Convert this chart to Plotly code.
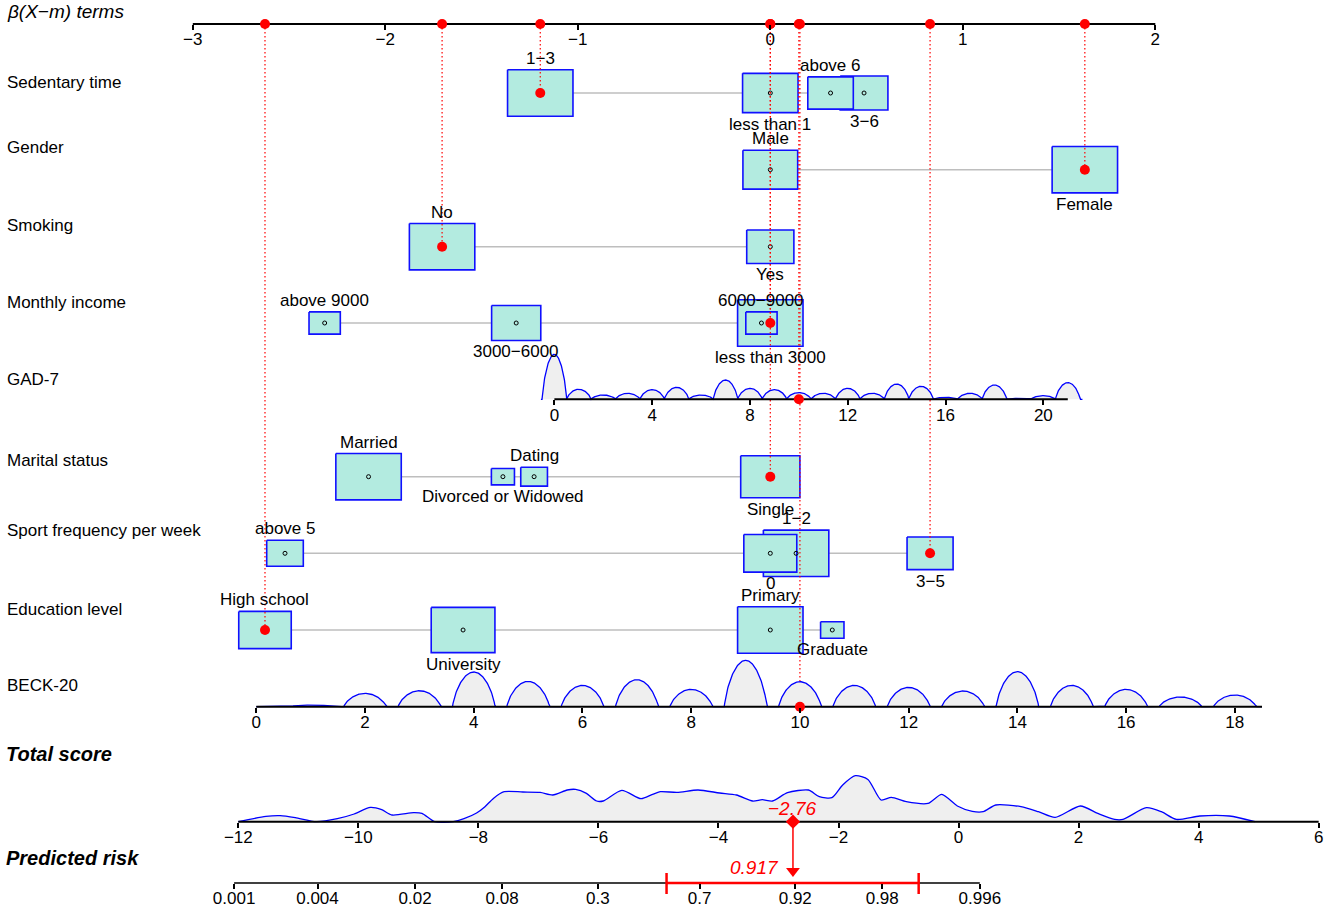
import numpy as np
import plotly.graph_objects as go

# ---------------- data ----------------
beta_ticks = [-3, -2, -1, 0, 1, 2]

sedentary_levels = ["less than 1", "1−3", "3−6", "above 6"]
sedentary_beta = [0.0, -1.195, 0.487, 0.313]
sedentary_pct = [26.3, 36.6, 19.5, 17.7]

gender_levels = ["Male", "Female"]
gender_beta = [0.0, 1.634]
gender_pct = [41.2, 58.8]

smoking_levels = ["No", "Yes"]
smoking_beta = [-1.705, 0.0]
smoking_pct = [65.8, 34.2]

income_levels = ["less than 3000", "3000−6000", "6000−9000", "above 9000"]
income_beta = [0.0, -1.32, -0.046, -2.315]
income_pct = [49.4, 27.9, 11.3, 11.3]

marital_levels = ["Single", "Married", "Dating", "Divorced or Widowed"]
marital_beta = [0.0, -2.087, -1.227, -1.389]
marital_pct = [38.8, 47.4, 7.9, 5.9]

sport_levels = ["1−2", "0", "3−5", "above 5"]
sport_beta = [0.134, 0.0, 0.830, -2.521]
sport_pct = [40.6, 26.6, 20.1, 12.7]

education_levels = ["Primary", "High school", "University", "Graduate"]
education_beta = [0.0, -2.625, -1.596, 0.322]
education_pct = [36.8, 23.7, 34.9, 4.7]

gad_values = list(range(22))
gad_freq = [45, 10, 4.3, 6, 9.7, 12, 4.3, 19.3, 11, 9.7, 6.7, 6, 11, 6, 15.3, 13,
            2, 6, 14.3, 1, 3.7, 16.7]
gad_coef = 0.127
gad_mean = 8.832
gad_ticks = [0, 4, 8, 12, 16, 20]

beck_values = list(range(19))
beck_freq = [0, 1.7, 13.3, 16, 34.7, 25.3, 21.3, 27, 17.3, 46.3, 25, 21.3, 19.3,
             15.7, 35, 21.3, 17.3, 9.7, 11.7]
beck_coef = 0.2824
beck_mean = 9.455
beck_ticks = list(range(0, 19, 2))

total_ticks = list(range(-12, 7, 2))
ts_x = [-12.0, -11.54, -11.30, -11.05, -10.70, -10.35, -10.07, -9.80, -9.61, -9.44,
        -9.08, -8.94, -8.73, -8.42, -8.24, -8.03, -7.89, -7.75, -7.57, -7.26,
        -6.97, -6.76, -6.52, -6.38, -6.20, -6.03, -5.92, -5.61, -5.29, -5.11,
        -4.97, -4.69, -4.34, -3.98, -3.70, -3.43, -3.27, -3.10, -2.85, -2.50,
        -2.32, -2.11, -1.93, -1.72, -1.51, -1.29, -1.12, -0.87, -0.51, -0.28,
        -0.02, 0.23, 0.41, 0.62, 1.04, 1.33, 1.61, 2.03, 2.32, 2.60,
        2.74, 3.13, 3.38, 3.63, 4.02, 4.51, 4.94]
ts_density = [0, 5.3, 6, 4, 0, 3, 7.7, 14.3, 12, 6.7,
              9, 8.3, 0, 0, 3, 8.7, 15, 23.3, 30, 29.7,
              29.3, 26.7, 31.7, 32.3, 28.3, 20.7, 20.7, 31.3, 23, 27,
              30, 29.3, 31.7, 28.7, 26.7, 20.7, 22, 20.7, 29, 31.7,
              25, 24, 36.7, 46, 42.3, 21.7, 24.3, 20, 18.3, 27.3,
              15.7, 10.3, 10, 16.7, 15, 10, 4.3, 15.7, 8.3, 2.3,
              2.3, 14, 10, 2.3, 5.7, 5.7, 0]

risk_ticks = [0.001, 0.004, 0.02, 0.08, 0.3, 0.7, 0.92, 0.98, 0.996]
risk_tick_labels = ["0.001", "0.004", "0.02", "0.08", "0.3", "0.7", "0.92", "0.98", "0.996"]
risk_intercept = 5.163
risk_ci = [0.574, 0.989]

patient_gad = 10
patient_beck = 10
selected = {"sedentary": "1−3", "gender": "Female", "smoking": "No",
            "income": "less than 3000", "marital": "Single", "sport": "3−5",
            "education": "High school"}

# ---------------- layout constants (pixels) ----------------
W, H = 1325, 907
B0PX, BPPU = 770.3, 192.5          # beta axis: pixel of 0, pixels per unit
TSPX, TSPPU = 238.3, 60.02         # total score axis: pixel of -12, pixels per unit
Y_TOP, Y_GAD, Y_BECK, Y_TOT, Y_RISK = 24, 399.3, 706.7, 821.7, 883.0
MAX_HH, ASPECT = 23.2, 1.41
FONT = "Liberation Sans, Arial, Helvetica, sans-serif"
BOX_FILL = "#B3EBE0"
BOX_LINE = "#1010FF"
GRAY_FILL = "#EFEFEF"

rows = [
    ("sedentary", sedentary_levels, sedentary_beta, sedentary_pct, 93.0,
     ["below", "above", "below", "above"]),
    ("gender", gender_levels, gender_beta, gender_pct, 169.7, ["above", "below"]),
    ("smoking", smoking_levels, smoking_beta, smoking_pct, 246.7, ["above", "below"]),
    ("income", income_levels, income_beta, income_pct, 323.0,
     ["below", "below", "above", "above"]),
    ("marital", marital_levels, marital_beta, marital_pct, 476.7,
     ["below", "above", "above", "below"]),
    ("sport", sport_levels, sport_beta, sport_pct, 553.3,
     ["above", "below", "below", "above"]),
    ("education", education_levels, education_beta, education_pct, 630.0,
     ["above", "above", "below", "below"]),
]

row_labels = [("Sedentary time", 82), ("Gender", 147), ("Smoking", 225),
              ("Monthly income", 302), ("GAD-7", 379), ("Marital status", 460),
              ("Sport frequency per week", 530), ("Education level", 609),
              ("BECK-20", 685)]

fig = go.Figure()
ann = []


def neg(v):
    s = f"{v:g}"
    return s.replace("-", "−")


# ---------------- factor rows ----------------
sel_points = []   # (beta, y)
for key, levels, betas, pcts, yrow, sides in rows:
    fig.add_trace(go.Scatter(x=[min(betas), max(betas)], y=[yrow, yrow], mode="lines",
                             line=dict(color="#BEBEBE", width=1.5), hoverinfo="skip"))
    pmax = max(pcts)
    dots_x = []
    for lev, b, p, side in zip(levels, betas, pcts, sides):
        hh = MAX_HH * np.sqrt(p / pmax)
        hw = ASPECT * hh / BPPU
        fig.add_trace(go.Scatter(
            x=[b - hw, b + hw, b + hw, b - hw, b - hw],
            y=[yrow - hh, yrow - hh, yrow + hh, yrow + hh, yrow - hh],
            mode="lines", fill="toself", fillcolor=BOX_FILL,
            line=dict(color=BOX_LINE, width=1.6), hoverinfo="skip"))
        ly = yrow - hh - 11.5 if side == "above" else yrow + hh + 11.5
        ann.append(dict(x=b, y=ly, xref="x", yref="y", text=lev, showarrow=False,
                        xanchor="center", yanchor="middle",
                        font=dict(size=17, color="black", family=FONT)))
        if lev == selected[key]:
            sel_points.append((b, yrow))
        else:
            dots_x.append(b)
    fig.add_trace(go.Scatter(x=dots_x, y=[yrow] * len(dots_x), mode="markers",
                             marker=dict(symbol="circle-open", size=4, color="black",
                                         line=dict(width=1, color="black")),
                             hoverinfo="skip"))


# ---------------- continuous rows (densities) ----------------
def bumps(values, freq, grid, half_width):
    d = np.zeros_like(grid)
    for v, f in zip(values, freq):
        u = (grid - v) / half_width
        d += f * np.clip(1 - u ** 2, 0, None) ** 0.75
    return d


gad_grid = np.linspace(-0.55, 21.6, 2000)
gad_d = bumps(gad_values, gad_freq, gad_grid, 0.5)
beck_grid = np.linspace(0.0, 18.5, 2000)
beck_d = bumps(beck_values, beck_freq, beck_grid, 0.39)

for xa, grid, dens, base in [("x2", gad_grid, gad_d, Y_GAD), ("x3", beck_grid, beck_d, Y_BECK)]:
    fig.add_trace(go.Scatter(x=grid, y=np.full_like(grid, base), mode="lines",
                             line=dict(width=0), xaxis=xa, yaxis="y", hoverinfo="skip"))
    fig.add_trace(go.Scatter(x=grid, y=base - dens, mode="lines", fill="tonexty",
                             fillcolor=GRAY_FILL, line=dict(color="blue", width=1.3),
                             xaxis=xa, yaxis="y", hoverinfo="skip"))

# axis lines for continuous variables
fig.add_trace(go.Scatter(x=[0, 21], y=[Y_GAD, Y_GAD], mode="lines", xaxis="x2", yaxis="y",
                         line=dict(color="black", width=2), hoverinfo="skip"))
fig.add_trace(go.Scatter(x=[0, 18.5], y=[Y_BECK, Y_BECK], mode="lines", xaxis="x3", yaxis="y",
                         line=dict(color="black", width=2), hoverinfo="skip"))

gad_beta = gad_coef * (patient_gad - gad_mean)
beck_beta = beck_coef * (patient_beck - beck_mean)
sel_points.append((gad_beta, Y_GAD))
sel_points.append((beck_beta, Y_BECK))

# ---------------- top beta axis line ----------------
fig.add_trace(go.Scatter(x=[beta_ticks[0], beta_ticks[-1]], y=[Y_TOP, Y_TOP], mode="lines",
                         line=dict(color="black", width=2), hoverinfo="skip"))

# ---------------- total score ----------------
fig.add_trace(go.Scatter(x=ts_x, y=[Y_TOT] * len(ts_x), mode="lines", line=dict(width=0),
                         xaxis="x4", yaxis="y", hoverinfo="skip"))
fig.add_trace(go.Scatter(x=ts_x, y=[Y_TOT - h for h in ts_density], mode="lines",
                         line=dict(color="blue", width=1.3, shape="spline", smoothing=0.7),
                         fill="tonexty", fillcolor=GRAY_FILL, xaxis="x4", yaxis="y",
                         hoverinfo="skip"))
fig.add_trace(go.Scatter(x=[total_ticks[0], total_ticks[-1]], y=[Y_TOT, Y_TOT], mode="lines",
                         xaxis="x4", yaxis="y", line=dict(color="black", width=2),
                         hoverinfo="skip"))


def logit(p):
    return float(np.log(p / (1 - p)))


risk_pos = [logit(p) - risk_intercept for p in risk_ticks]
fig.add_trace(go.Scatter(x=[risk_pos[0], risk_pos[-1]], y=[Y_RISK, Y_RISK], mode="lines",
                         xaxis="x5", yaxis="y", line=dict(color="black", width=1.5),
                         hoverinfo="skip"))

# ---------------- red dotted guides and points ----------------
for b, y in sel_points:
    fig.add_trace(go.Scatter(x=[b, b], y=[Y_TOP, y], mode="lines",
                             line=dict(color="red", width=1.2, dash="1.5px,2.5px"),
                             hoverinfo="skip"))
sx = [p[0] for p in sel_points]
fig.add_trace(go.Scatter(x=sx, y=[Y_TOP] * len(sx), mode="markers",
                         marker=dict(color="red", size=10), hoverinfo="skip"))
fac = [p for p in sel_points if p[1] not in (Y_GAD, Y_BECK)]
fig.add_trace(go.Scatter(x=[p[0] for p in fac], y=[p[1] for p in fac], mode="markers",
                         marker=dict(color="red", size=10), hoverinfo="skip"))
fig.add_trace(go.Scatter(x=[patient_gad], y=[Y_GAD], mode="markers", xaxis="x2", yaxis="y",
                         marker=dict(color="red", size=10), hoverinfo="skip"))
fig.add_trace(go.Scatter(x=[patient_beck], y=[Y_BECK], mode="markers", xaxis="x3", yaxis="y",
                         marker=dict(color="red", size=10), hoverinfo="skip"))

total_score = sum(p[0] for p in sel_points)
risk = 1 / (1 + np.exp(-(total_score + risk_intercept)))

# CI bar on risk axis
ci_pos = [logit(p) - risk_intercept for p in risk_ci]
fig.add_trace(go.Scatter(x=ci_pos, y=[Y_RISK, Y_RISK], mode="lines", xaxis="x5", yaxis="y",
                         line=dict(color="red", width=2.5), hoverinfo="skip"))
for c in ci_pos:
    fig.add_trace(go.Scatter(x=[c, c], y=[Y_RISK - 10, Y_RISK + 11], mode="lines",
                             xaxis="x5", yaxis="y", line=dict(color="red", width=2.5),
                             hoverinfo="skip"))
# arrow from total score to risk
fig.add_trace(go.Scatter(x=[total_score, total_score], y=[Y_TOT, Y_RISK - 8], mode="lines",
                         xaxis="x4", yaxis="y", line=dict(color="red", width=1.5),
                         hoverinfo="skip"))
fig.add_trace(go.Scatter(x=[total_score], y=[Y_RISK - 12], mode="markers", xaxis="x4",
                         yaxis="y", marker=dict(symbol="triangle-down", size=12, color="red"),
                         hoverinfo="skip"))
fig.add_trace(go.Scatter(x=[total_score], y=[Y_TOT], mode="markers", xaxis="x4", yaxis="y",
                         marker=dict(symbol="diamond", size=11, color="red"), hoverinfo="skip"))

ann.append(dict(x=total_score, y=Y_TOT - 13, xref="x4", yref="y",
                text=f"<i>{total_score:.2f}</i>".replace("-", "−"), showarrow=False,
                xanchor="center", yanchor="middle",
                font=dict(size=19, color="red", family=FONT)))
ann.append(dict(x=total_score, y=Y_RISK - 16, xref="x4", yref="y", xshift=-12,
                text=f"<i>{risk:.3f}</i>", showarrow=False, xanchor="right",
                yanchor="middle", font=dict(size=19, color="red", family=FONT)))

# ---------------- row labels ----------------
for txt, y in row_labels:
    ann.append(dict(x=5 / W, y=y, xref="paper", yref="y", text=txt, showarrow=False,
                    xanchor="left", yanchor="middle",
                    font=dict(size=17, color="black", family=FONT)))
ann.append(dict(x=5 / W, y=11, xref="paper", yref="y", text="<i>β(X−m) terms</i>",
                showarrow=False, xanchor="left", yanchor="middle",
                font=dict(size=19, color="black", family=FONT)))
ann.append(dict(x=4 / W, y=754, xref="paper", yref="y", text="<b><i>Total score</i></b>",
                showarrow=False, xanchor="left", yanchor="middle",
                font=dict(size=20, color="black", family=FONT)))
ann.append(dict(x=4 / W, y=858, xref="paper", yref="y", text="<b><i>Predicted risk</i></b>",
                showarrow=False, xanchor="left", yanchor="middle",
                font=dict(size=20, color="black", family=FONT)))

# ---------------- axes ----------------
beta_range = [(0 - B0PX) / BPPU, (W - B0PX) / BPPU]
gad_range = [r / gad_coef + gad_mean for r in beta_range]
beck_range = [r / beck_coef + beck_mean for r in beta_range]
tot_range = [-12 - TSPX / TSPPU, -12 + (W - TSPX) / TSPPU]


def axis(rng, ypx, tickvals, ticktext, overlay=None):
    d = dict(range=rng, domain=[0, 1], anchor="free", position=1 - ypx / H, side="bottom",
             tickmode="array", tickvals=tickvals, ticktext=ticktext, ticks="outside",
             ticklen=5, tickwidth=1.5, tickcolor="black", showline=False, showgrid=False,
             zeroline=False, fixedrange=True, automargin=False, ticklabelstandoff=-5,
             tickfont=dict(size=17, color="black", family=FONT))
    if overlay:
        d["overlaying"] = overlay
    return d


fig.update_layout(
    width=W, height=H, margin=dict(l=0, r=0, t=0, b=0, autoexpand=False),
    paper_bgcolor="white", plot_bgcolor="white", showlegend=False,
    xaxis=axis(beta_range, Y_TOP, beta_ticks, [neg(v) for v in beta_ticks]),
    xaxis2=axis(gad_range, Y_GAD, gad_ticks, [neg(v) for v in gad_ticks], "x"),
    xaxis3=axis(beck_range, Y_BECK, beck_ticks, [neg(v) for v in beck_ticks], "x"),
    xaxis4=axis(tot_range, Y_TOT, total_ticks, [neg(v) for v in total_ticks], "x"),
    xaxis5=axis(tot_range, Y_RISK, risk_pos, risk_tick_labels, "x"),
    yaxis=dict(range=[H, 0], domain=[0, 1], visible=False, fixedrange=True),
    annotations=ann,
)

fig.write_html("out.html", config={"displayModeBar": False},
               post_script="document.body.style.margin='0';")
